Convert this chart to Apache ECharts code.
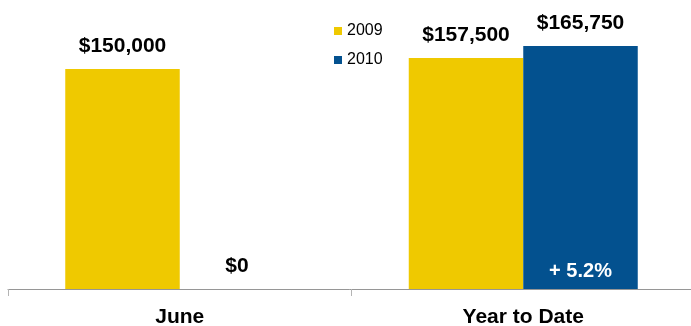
<!DOCTYPE html>
<html>
<head>
<meta charset="utf-8">
<script src="https://cdn.jsdelivr.net/npm/echarts@6/dist/echarts.min.js"></script>
<style>
  html, body { margin: 0; padding: 0; background: #fff; }
  #chart { width: 691px; height: 326px; }
</style>
</head>
<body>
<div id="chart"></div>
<script>
// categories + values
var categories = ['June', 'Year to Date'];
var values2009 = [150000, 157500];
var values2010 = [0, 165750];
var changeNote = '+ 5.2%';

var myChart = echarts.init(document.getElementById('chart'));

var fmt = function (p) {
    return '$' + Number(p.value).toLocaleString('en-US');
};

var labelStyle = {
    show: true,
    position: 'top',
    distance: 12,
    color: '#000',
    fontFamily: 'Liberation Sans, Arial, sans-serif',
    fontWeight: 'bold',
    fontSize: 21,
    formatter: fmt
};

var option = {
    backgroundColor: '#fff',
    animation: false,
    grid: {
        left: 8,
        top: 25,
        bottom: 37,
        width: 687,
        outerBoundsMode: 'none'
    },
    legend: {
        orient: 'vertical',
        left: 329,
        top: 18,
        itemWidth: 8,
        itemHeight: 8,
        itemGap: 13,
        icon: 'rect',
        textStyle: {
            color: '#000',
            fontSize: 16,
            fontFamily: 'Liberation Sans, Arial, sans-serif'
        },
        data: ['2009', '2010']
    },
    xAxis: {
        type: 'category',
        data: categories,
        axisLine: {
            lineStyle: { color: '#969696', width: 1 }
        },
        axisTick: {
            show: true,
            length: 7,
            lineStyle: { color: '#b4b4b4' }
        },
        axisLabel: {
            margin: 18,
            color: '#000',
            fontSize: 21,
            fontWeight: 'bold',
            fontFamily: 'Liberation Sans, Arial, sans-serif'
        }
    },
    yAxis: {
        type: 'value',
        min: 0,
        max: 180000,
        show: false
    },
    series: [
        {
            name: '2009',
            type: 'bar',
            barWidth: 114.5,
            barGap: '0%',
            itemStyle: { color: '#EFC900' },
            label: labelStyle,
            data: values2009
        },
        {
            name: '2010',
            type: 'bar',
            barWidth: 114.5,
            barGap: '0%',
            itemStyle: { color: '#03518F' },
            label: labelStyle,
            data: values2010,
            markPoint: {
                symbol: 'rect',
                symbolSize: 0,
                data: [{ coord: [categories[1], 0], value: changeNote }],
                label: {
                    show: true,
                    position: 'inside',
                    offset: [0, -18],
                    formatter: changeNote,
                    color: '#fff',
                    fontSize: 20,
                    fontWeight: 'bold',
                    fontFamily: 'Liberation Sans, Arial, sans-serif'
                }
            }
        }
    ]
};

myChart.setOption(option);
</script>
</body>
</html>
